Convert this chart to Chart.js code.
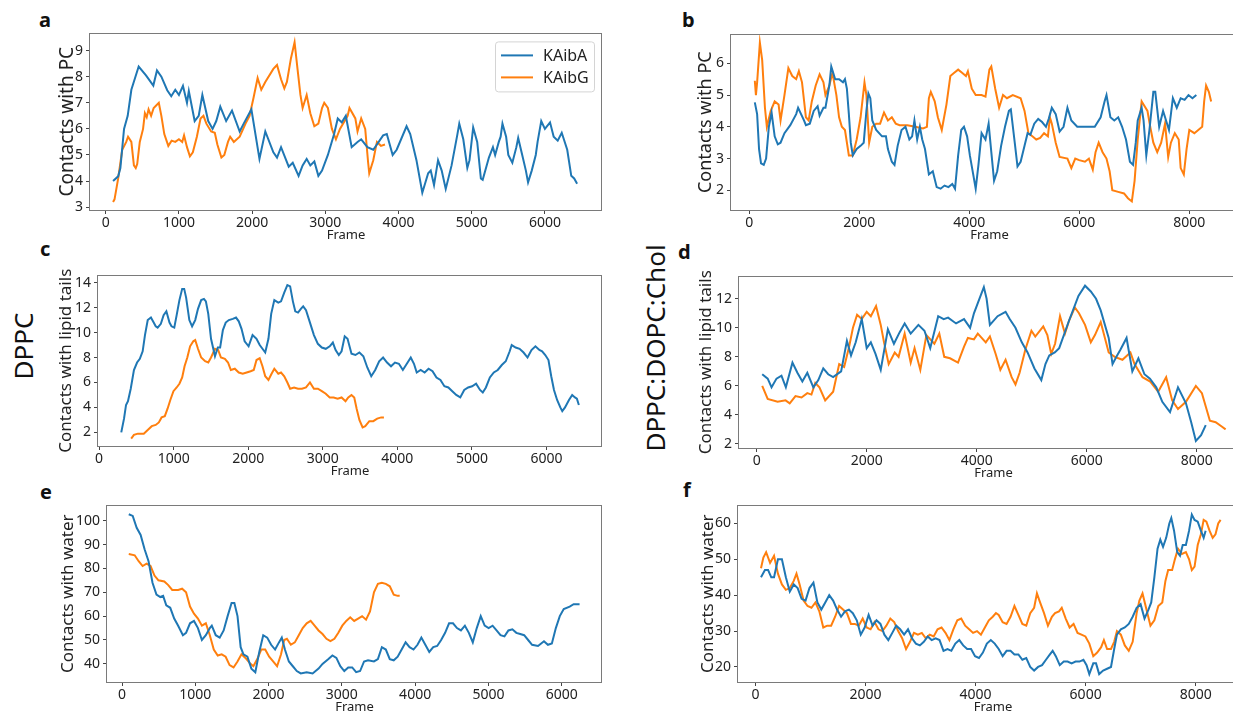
<!DOCTYPE html>
<html>
<head>
<meta charset="utf-8">
<script src="https://cdn.jsdelivr.net/npm/chart.js@4.4.0/dist/chart.umd.min.js"></script>
<style>
  html, body { margin: 0; padding: 0; background: #fff; }
  #figure { position: relative; width: 1233px; height: 712px; overflow: hidden; font-family: "Noto Sans", sans-serif; color: #111; }
  #figure canvas { position: absolute; }
  .letter { position: absolute; font-weight: bold; font-size: 20px; line-height: 20px; }
  .side-label { position: absolute; font-size: 26px; line-height: 26px; white-space: nowrap; transform: translate(-50%, -50%) rotate(-90deg); }
</style>
</head>
<body>
<div id="figure">
  <div class="letter" style="left:39px; top:10px;">a</div>
  <div class="letter" style="left:682px; top:10px;">b</div>
  <div class="letter" style="left:40px; top:239px;">c</div>
  <div class="letter" style="left:678px; top:242px;">d</div>
  <div class="letter" style="left:40px; top:482px;">e</div>
  <div class="letter" style="left:683px; top:480px;">f</div>
  <div class="side-label" style="left:23px; top:346px;">DPPC</div>
  <div class="side-label" style="left:655px; top:348px;">DPPC:DOPC:Chol</div>
</div>
<script>
// series names and colours
const seriesNames = ["KAibA", "KAibG"];
const seriesColors = ["#1f77b4", "#ff7f0e"];

// tick labels
const xTicksShort = [0, 1000, 2000, 3000, 4000, 5000, 6000];
const xTicksLong = [0, 2000, 4000, 6000, 8000];
const yTicksA = [3, 4, 5, 6, 7, 8, 9];
const yTicksB = [2, 3, 4, 5, 6];
const yTicksC = [2, 4, 6, 8, 10, 12, 14];
const yTicksD = [2, 4, 6, 8, 10, 12];
const yTicksE = [40, 50, 60, 70, 80, 90, 100];
const yTicksF = [20, 30, 40, 50, 60];

// --- a: contacts with PC, DPPC ---
const aFramesA = [100,170,200,250,300,350,450,550,650,700,760,840,895,950,1000,1055,1110,1135,1215,1270,1320,1400,1460,1510,1565,1645,1725,1830,1885,1990,2100,2180,2290,2340,2395,2500,2555,2635,2690,2745,2795,2850,2905,2955,3035,3120,3170,3225,3280,3360,3440,3490,3575,3655,3790,3840,3920,3975,4110,4160,4245,4325,4405,4440,4485,4540,4590,4645,4725,4805,4830,4885,4940,4970,5020,5075,5125,5150,5235,5290,5320,5370,5395,5420,5470,5500,5555,5610,5635,5690,5740,5770,5820,5875,5900,5950,6000,6070,6120,6175,6230,6305,6360,6400,6440];
const aKAibA = [4.0,4.18,4.5,6.0,6.5,7.5,8.39,8.05,7.66,8.24,8.0,7.48,7.25,7.5,7.3,7.65,7.0,7.45,6.3,6.5,7.3,6.3,6.0,6.3,6.85,6.3,6.7,5.9,6.2,6.75,4.85,5.9,5.1,4.9,5.3,4.55,4.7,4.2,4.6,4.85,4.6,4.75,4.2,4.4,5.0,5.8,6.4,6.25,6.5,5.3,5.5,5.6,5.3,5.2,5.75,5.8,5.0,5.2,6.1,5.8,4.8,3.55,4.3,4.4,3.85,4.8,4.4,3.7,4.6,5.8,6.2,5.6,4.5,4.8,6.05,5.5,4.1,4.05,4.9,5.3,5.0,5.5,5.7,6.2,5.7,5.0,4.7,5.3,5.65,5.0,4.4,3.95,4.4,5.0,5.5,6.3,6.0,6.25,5.7,5.55,5.85,5.2,4.2,4.1,3.9];
const aFramesG = [100,120,170,225,280,305,350,385,410,430,465,510,535,560,585,620,655,725,760,800,855,900,950,1000,1045,1070,1110,1150,1190,1245,1295,1335,1375,1440,1490,1525,1580,1620,1670,1700,1750,1830,1910,1965,2020,2075,2125,2180,2290,2340,2395,2440,2475,2530,2580,2620,2660,2690,2745,2795,2850,2905,2955,2985,3035,3090,3145,3200,3305,3330,3410,3440,3490,3545,3585,3600,3655,3705,3760,3815];
const aKAibG = [3.2,3.3,4.1,5.2,5.5,5.7,5.5,4.6,4.5,4.65,5.5,6.0,6.6,6.45,6.75,6.5,6.8,7.0,6.5,5.8,5.35,5.55,5.5,5.6,5.5,5.75,5.3,4.95,5.1,5.7,6.4,6.5,6.2,5.9,5.85,5.4,4.9,5.0,5.5,5.7,5.5,5.7,6.2,6.5,7.2,7.95,7.5,7.8,8.3,8.45,7.9,7.55,7.8,8.7,9.32,8.3,7.3,6.8,7.3,6.6,6.1,6.2,6.8,7.0,6.8,6.0,5.6,6.0,6.5,6.8,6.4,5.9,6.4,6.0,4.7,4.3,4.8,5.5,5.35,5.4];

// --- b: contacts with PC, DPPC:DOPC:Chol ---
const bFramesA = [100,142,177,213,263,305,355,405,461,518,568,639,745,852,887,994,1029,1100,1171,1242,1278,1348,1384,1455,1490,1561,1632,1703,1739,1774,1810,1845,1881,1952,2023,2080,2129,2165,2200,2236,2307,2413,2484,2520,2591,2640,2697,2768,2839,2910,2960,3002,3052,3101,3144,3194,3265,3336,3407,3478,3549,3620,3691,3740,3797,3853,3903,3960,4010,4081,4116,4166,4223,4294,4351,4400,4450,4507,4578,4649,4720,4755,4826,4876,4933,5004,5060,5110,5181,5252,5323,5394,5444,5500,5571,5642,5713,5784,5855,5962,6139,6281,6388,6459,6494,6565,6636,6707,6778,6849,6920,6977,7026,7062,7133,7168,7218,7275,7346,7381,7452,7523,7559,7630,7701,7772,7843,7915,7985,8057,8128];
const bKAibA = [4.77,4.4,3.3,2.85,2.8,3.0,4.0,4.45,3.7,3.45,3.5,3.8,4.05,4.4,4.6,4.2,4.05,4.1,4.5,4.65,4.35,4.6,4.6,5.3,5.9,5.5,5.5,5.4,5.5,5.2,4.4,3.5,3.1,3.3,3.4,3.5,4.5,5.05,4.9,4.2,3.9,3.7,3.7,3.3,2.9,2.8,3.4,3.9,4.0,3.6,3.7,4.2,3.6,4.0,3.6,3.3,2.5,2.6,2.1,2.05,2.15,2.1,2.2,2.05,3.1,3.9,4.0,3.7,3.1,2.4,2.05,2.8,3.8,3.6,4.1,3.2,2.3,2.6,3.4,4.0,4.5,4.55,3.5,2.75,2.9,3.4,3.8,3.75,4.1,4.25,4.15,4.0,4.25,4.6,4.4,3.85,4.0,4.6,4.2,4.0,4.0,4.0,4.3,4.8,5.0,4.3,4.2,4.3,4.0,3.6,2.9,2.8,3.5,4.2,4.6,4.2,3.1,3.9,5.1,5.1,4.0,4.5,4.3,3.9,4.9,4.6,4.9,4.85,5.0,4.9,5.0];
const bFramesG = [100,120,142,192,234,284,319,390,461,532,568,639,710,781,852,901,958,1029,1079,1136,1207,1278,1348,1384,1455,1512,1583,1632,1682,1739,1810,1881,1952,2023,2094,2129,2179,2236,2307,2378,2449,2520,2591,2662,2733,2874,3016,3158,3229,3265,3300,3371,3428,3499,3584,3655,3726,3797,3868,3939,3974,4045,4116,4223,4294,4365,4400,4471,4542,4613,4684,4791,4933,5004,5075,5146,5217,5288,5359,5429,5465,5500,5571,5642,5784,5855,5926,5997,6103,6174,6245,6295,6352,6423,6494,6551,6600,6707,6813,6884,6955,7005,7062,7133,7168,7239,7289,7346,7417,7488,7559,7616,7665,7736,7807,7843,7900,7950,8000,8092,8163,8234,8270,8305,8355,8397];
const bKAibG = [5.45,5.0,5.4,6.65,6.1,4.6,4.0,4.5,4.8,4.7,4.2,5.0,5.85,5.6,5.5,5.75,5.4,4.3,4.2,4.8,5.3,5.65,5.4,5.0,5.3,5.7,5.0,4.3,4.0,3.9,3.1,3.1,3.6,4.3,5.4,5.0,3.5,4.0,4.1,4.1,4.45,4.2,4.3,4.1,4.05,4.05,4.0,3.95,4.0,4.9,5.1,4.8,4.3,3.9,4.7,5.6,5.7,5.8,5.7,5.6,5.75,5.2,5.0,5.0,4.95,5.8,5.9,5.2,4.6,5.0,4.9,5.0,4.9,4.5,3.8,3.7,3.6,3.65,3.8,3.7,4.3,4.1,3.5,3.05,3.0,2.7,3.0,2.95,2.9,3.0,2.65,3.2,3.5,3.2,3.0,2.6,2.0,1.95,1.9,1.75,1.65,2.3,3.6,4.8,4.7,4.5,4.0,3.5,3.2,3.5,4.1,3.05,3.5,3.8,3.6,2.7,2.5,3.3,3.9,3.8,3.9,4.0,4.8,5.3,5.1,4.8];

// --- c: contacts with lipid tails, DPPC ---
const cFramesA = [297,334,361,387,424,467,509,546,584,615,652,695,732,759,785,828,865,902,944,971,1008,1040,1077,1114,1141,1167,1210,1247,1289,1326,1369,1406,1432,1464,1501,1554,1592,1623,1660,1698,1740,1793,1836,1873,1910,1952,2005,2058,2111,2154,2191,2228,2271,2308,2350,2403,2440,2483,2525,2562,2599,2631,2668,2706,2737,2775,2828,2881,2934,2987,3040,3093,3135,3172,3215,3252,3294,3332,3385,3438,3491,3544,3597,3650,3703,3756,3809,3862,3915,3968,4021,4074,4127,4180,4223,4260,4313,4366,4419,4472,4525,4578,4631,4684,4737,4790,4844,4897,4950,5003,5056,5109,5146,5188,5241,5294,5347,5401,5454,5507,5534,5587,5640,5693,5746,5799,5852,5905,5942,5984,6027,6064,6101,6143,6186,6212,6249,6302,6345,6382,6408,6435];
const cKAibA = [2.0,3.1,4.2,4.5,5.5,7.0,7.6,7.9,8.5,9.8,11.0,11.2,10.8,10.5,10.4,10.7,11.4,11.7,10.8,10.5,10.4,11.4,12.6,13.5,13.5,12.8,11.0,10.5,11.0,11.9,12.6,12.7,12.5,11.5,9.5,8.1,8.8,8.8,10.2,10.8,11.0,11.1,11.2,10.9,10.3,9.3,8.9,9.8,9.5,9.0,8.7,8.4,9.5,11.5,12.6,12.4,12.5,13.2,13.8,13.7,12.5,11.7,11.6,11.9,12.1,11.8,10.8,9.8,9.1,8.8,8.7,8.9,9.2,8.6,8.2,8.5,9.7,9.5,8.3,8.2,8.4,8.1,7.2,6.5,7.0,7.7,8.0,7.6,7.3,7.6,7.5,7.0,7.5,8.0,7.5,6.8,7.0,6.8,7.1,6.9,6.4,6.2,5.7,5.6,5.3,5.0,4.8,5.4,5.6,5.7,5.9,5.4,5.2,5.6,6.4,6.8,7.0,7.4,7.7,8.5,9.0,8.8,8.7,8.4,8.0,8.6,8.9,8.6,8.5,8.2,7.8,6.5,5.4,4.6,4.0,3.7,4.0,4.6,5.0,4.8,4.7,4.2];
const cFramesG = [430,467,520,599,652,706,759,801,838,881,918,955,997,1040,1077,1114,1146,1183,1220,1263,1289,1326,1369,1422,1464,1501,1554,1597,1634,1687,1729,1767,1820,1873,1926,1979,2032,2074,2111,2154,2191,2228,2271,2313,2350,2403,2440,2483,2525,2562,2615,2668,2721,2775,2828,2881,2934,2987,3040,3093,3146,3199,3252,3305,3342,3385,3422,3454,3491,3534,3570,3624,3677,3730,3783,3820];
const cKAibG = [1.5,1.8,1.9,1.9,2.2,2.5,2.6,2.8,3.2,3.3,3.9,4.6,5.3,5.6,5.9,6.4,7.3,8.0,8.9,9.3,9.4,8.7,8.0,7.7,7.6,8.0,8.7,8.6,8.0,7.9,7.6,7.0,7.1,6.8,6.7,6.8,6.9,7.0,7.8,7.95,7.3,6.5,6.2,6.7,7.1,6.7,6.8,6.5,6.0,5.5,5.6,5.5,5.5,5.6,6.0,5.5,5.5,5.3,5.1,4.8,4.8,4.7,4.8,4.5,4.8,5.0,4.8,3.9,3.0,2.4,2.5,2.9,2.9,3.1,3.2,3.2];

// --- d: contacts with lipid tails, DPPC:DOPC:Chol ---
const dFramesA = [100,200,270,360,450,530,650,740,830,920,1030,1120,1210,1300,1390,1535,1640,1715,1800,1910,2000,2075,2160,2255,2385,2495,2600,2690,2800,2940,3050,3155,3300,3400,3480,3625,3770,3880,3950,4020,4130,4180,4240,4380,4525,4600,4705,4820,4925,5050,5175,5250,5320,5420,5500,5680,5850,5970,6075,6170,6255,6400,6470,6540,6615,6725,6830,6940,7050,7150,7265,7375,7515,7660,7805,7900,7985,8080,8165];
const dKAibA = [6.8,6.5,5.9,6.5,6.7,5.9,7.6,6.9,6.3,6.9,5.9,6.4,7.2,6.8,6.6,7.0,9.1,8.1,9.0,10.6,8.6,9.0,8.2,7.1,9.9,8.9,9.7,10.3,9.6,10.2,9.8,8.6,10.8,10.6,10.7,10.3,10.6,10.0,11.0,11.7,12.8,12.0,10.2,10.8,11.1,10.6,10.0,9.0,8.3,7.2,6.4,7.5,8.1,8.3,8.6,10.5,12.2,12.9,12.5,12.0,11.2,9.3,7.5,8.0,8.5,9.3,7.0,7.9,6.8,6.5,5.9,4.9,4.2,5.9,4.8,3.5,2.2,2.6,3.3];
const dFramesG = [100,200,380,525,600,705,815,920,995,1065,1140,1245,1390,1500,1590,1680,1750,1825,1910,2000,2075,2170,2255,2315,2400,2510,2580,2690,2800,2870,2975,3085,3230,3320,3410,3515,3660,3770,3840,3950,4020,4165,4240,4345,4430,4525,4635,4705,4780,4885,4995,5065,5210,5285,5355,5425,5515,5605,5680,5785,5860,5970,6075,6150,6255,6400,6510,6650,6795,6870,7015,7155,7300,7445,7555,7660,7805,7985,8095,8240,8345,8455,8526];
const dKAibG = [6.0,5.1,4.9,5.0,4.8,5.3,5.2,5.5,5.4,6.2,5.9,5.0,5.6,7.5,7.3,8.7,10.0,10.9,10.6,11.1,10.8,11.5,10.2,9.0,7.5,8.3,8.0,9.6,7.6,8.6,7.1,9.5,8.9,9.6,8.0,7.9,7.6,8.7,9.3,9.2,9.6,9.0,9.4,8.2,7.1,7.8,6.6,6.1,6.9,8.5,9.8,9.4,10.1,9.5,8.2,8.9,10.8,9.6,10.5,11.4,11.0,10.2,9.0,9.5,10.4,8.3,8.0,7.8,8.3,7.5,6.6,6.3,5.6,6.6,5.0,4.4,4.9,6.0,5.5,3.6,3.5,3.2,3.0];

// --- e: contacts with water, DPPC ---
const eFramesA = [92,146,200,254,308,362,416,470,523,561,604,658,712,766,831,874,928,982,1036,1090,1144,1198,1225,1279,1333,1387,1441,1495,1533,1576,1619,1657,1711,1765,1819,1873,1927,1981,2035,2089,2142,2180,2223,2277,2331,2385,2439,2520,2601,2682,2736,2817,2871,2925,2979,3033,3087,3141,3195,3249,3303,3357,3438,3492,3546,3600,3654,3708,3762,3816,3870,3924,3978,4032,4085,4139,4193,4247,4301,4355,4409,4463,4517,4571,4625,4679,4733,4787,4841,4895,4949,5003,5057,5111,5165,5219,5273,5327,5381,5434,5488,5542,5596,5677,5758,5812,5866,5920,5974,6028,6109,6163,6244];
const eKAibA = [102.7,102,97,94,88,83,74,69,68,68.5,64.5,63.5,59,56,52,53,57,58,55,50,52,55,56,52,51,54,60,65.5,65.5,60,47,44,43,38,36.5,45,52,51,48,46,49,51,46,41,39,37,36,36.5,36,38,40,42,43.5,42.5,39,37,38.5,38.5,36.5,37,41,41.5,41,42,47,46,42,41.5,43,46,49,47,46,48,51,48,45,47,47.5,50,53,57,57,55,54,56,53,49,55,60,56,55,56,54,52,51.5,54,54.5,53,52.5,52,50,48,47.5,49.5,48,48.5,55,60,63,64,65,65];
const eFramesG = [92,173,227,281,335,389,443,497,577,631,685,766,820,874,928,982,1036,1090,1144,1198,1252,1306,1360,1414,1468,1522,1576,1630,1684,1738,1792,1846,1900,1954,2008,2062,2116,2170,2213,2250,2304,2358,2412,2466,2520,2574,2628,2682,2736,2790,2844,2898,2952,3006,3060,3114,3168,3222,3276,3330,3384,3438,3492,3546,3600,3654,3708,3762,3789];
const eKAibG = [86,85.5,83,81,82,81,77,75,74.5,73,71,71,71.5,70,64,61,59,56,57,52,46,43.5,44,43,39.5,38.5,41,44,42.5,40.5,39,42,46,46,43,41,39,44,50,50.5,48,49,52,55,57,58,56,54,52.5,50.5,49.5,50.5,53,56,58,59.5,58,59,60,58.5,62,70,73.5,74,73.5,72.5,69,68.5,68.5];

// --- f: contacts with water, DPPC:DOPC:Chol ---
const fFramesA = [100,172,229,287,337,408,480,552,623,695,766,838,910,981,1053,1125,1196,1268,1340,1411,1483,1555,1626,1698,1769,1841,1913,1984,2056,2128,2199,2271,2342,2414,2486,2557,2629,2701,2772,2844,2915,2987,3059,3130,3202,3274,3345,3417,3489,3560,3632,3704,3775,3847,3918,3990,4062,4133,4205,4277,4348,4420,4492,4563,4635,4706,4778,4850,4921,4993,5064,5136,5208,5279,5351,5401,5458,5530,5602,5673,5745,5817,5888,5960,6017,6067,6139,6189,6246,6318,6390,6461,6519,6569,6640,6712,6784,6855,6927,6999,7070,7142,7192,7249,7307,7357,7407,7464,7521,7557,7607,7665,7715,7765,7822,7880,7930,7980,8037,8095,8145,8181];
const fKAibA = [45,47,47,45,45,50,50,45,41,43,42,39,38.5,42,43.5,38,36,38,40,38.5,36,34,35.5,36,35,33,29,31,34.5,31.5,33,32,29,27.5,29.5,31.5,30.5,29,30.5,28,26.5,26,27,28.5,27.5,28,27.5,24.5,25,24.5,26.5,27.5,26,25,25,23,22.5,24,26.5,27.5,26.5,25,23,24.5,24.5,23.5,23.5,22,22.5,20,19,20,20.5,22,23.5,24.5,23,20.5,21.5,21.5,21,21.5,21.5,22,20.5,18,21,21,18,19,19.5,20,25,29,30.5,31,32,34,36.5,37.5,33.5,36,38,45,53,55.5,53.5,56,60,61.5,58,52,51,54,54,58,62.5,61,60.5,58,56,58];
const fFramesG = [100,143,193,265,337,408,480,552,623,695,745,802,874,946,1017,1089,1160,1232,1304,1375,1447,1519,1590,1662,1734,1805,1877,1948,2020,2092,2163,2235,2306,2378,2450,2521,2593,2665,2736,2808,2880,2951,3023,3095,3166,3238,3309,3381,3453,3524,3596,3668,3739,3811,3883,3954,4026,4097,4169,4241,4312,4370,4420,4492,4563,4635,4706,4778,4850,4921,4993,5064,5115,5172,5244,5315,5387,5444,5516,5566,5638,5709,5781,5853,5924,5996,6067,6139,6210,6282,6332,6390,6461,6519,6569,6640,6712,6784,6855,6927,6977,7034,7106,7178,7249,7321,7393,7450,7500,7572,7622,7679,7751,7822,7880,7930,7980,8037,8095,8145,8195,8252,8309,8360,8410,8453];
const fKAibG = [47.5,50.5,52,49,51,46,43,41.5,42,44,46,43,38.5,37,36.5,38,35.5,31,31.5,31.5,34,37,36,35,32,32,31.5,33.5,31,30.5,32.5,30.5,30,31.5,33.5,32.5,30,28,25,27,29.5,29,29.5,28,29,28.5,30.5,31,29.5,27.5,30.5,33,33.5,31.5,30.5,29.5,30,29,31,33,34,35,34.5,32.5,32,34,37,34.5,32,31.5,35,36.5,40.5,38,35,31.5,34,35,35.5,36.5,33.5,31,32,29.5,29,28.5,26.5,23,24,25.5,27.5,25,25,27,30,29,26,24.5,27,35,38.5,40.5,36,31.5,33,37,38,44,47,47,50,53,51.5,52,50,47,48,54,57,61,60.5,58,56,57,60,61];

Chart.defaults.font.family = '"Noto Sans", sans-serif';
Chart.defaults.color = "#222";

const TEXT = "#222";
const X_AXIS_H = 32;
const PAD = 3;

// draws the four spines like matplotlib
const framePlugin = {
  id: "frame",
  afterDraw(chart) {
    const { ctx, chartArea: a } = chart;
    ctx.save();
    ctx.strokeStyle = "#7a7a7a";
    ctx.lineWidth = 1;
    ctx.strokeRect(Math.round(a.left) - 0.5, Math.round(a.top) + 0.5,
      Math.round(a.right - a.left), Math.round(a.bottom - a.top));
    ctx.restore();
  },
};

// legend box in the upper right of panel a
const legendPlugin = {
  id: "boxLegend",
  afterDraw(chart) {
    const { ctx, chartArea: a } = chart;
    const w = 99, h = 50;
    const left = a.right - 8 - w, top = a.top + 8;
    ctx.save();
    ctx.fillStyle = "rgba(255,255,255,0.85)";
    ctx.strokeStyle = "#d4d4d4";
    ctx.lineWidth = 1;
    ctx.beginPath();
    ctx.roundRect(left + 0.5, top + 0.5, w, h, 3);
    ctx.fill();
    ctx.stroke();
    ctx.font = '16px "Noto Sans", sans-serif';
    ctx.textBaseline = "middle";
    seriesNames.forEach((name, i) => {
      const y = top + 14 + i * 22;
      ctx.strokeStyle = seriesColors[i];
      ctx.lineWidth = 2;
      ctx.beginPath();
      ctx.moveTo(left + 6, y);
      ctx.lineTo(left + 38, y);
      ctx.stroke();
      ctx.fillStyle = TEXT;
      ctx.fillText(name, left + 48, y + 1);
    });
    ctx.restore();
  },
};

function toPoints(frames, values) {
  return frames.map((f, i) => ({ x: f, y: values[i] }));
}

function makePanel(p) {
  const fig = document.getElementById("figure");
  const canvas = document.createElement("canvas");
  const w = p.box.r - p.left + PAD;
  const h = p.box.b - p.box.t + PAD + X_AXIS_H;
  canvas.width = w;
  canvas.height = h;
  canvas.style.left = p.left + "px";
  canvas.style.top = p.box.t - PAD + "px";
  canvas.style.width = w + "px";
  canvas.style.height = h + "px";
  fig.appendChild(canvas);

  const yAxisW = p.box.l - p.left;
  const tickStyle = {
    font: { size: 14 },
    color: TEXT,
    padding: 1,
    autoSkip: false,
    maxRotation: 0,
    callback: (v) => String(v),
  };
  const gridStyle = {
    display: true,
    drawOnChartArea: false,
    drawTicks: true,
    tickLength: 4,
    color: "#444",
    lineWidth: 1,
  };

  new Chart(canvas, {
    type: "line",
    data: {
      datasets: [
        { label: seriesNames[0], data: toPoints(p.framesA, p.valuesA), borderColor: seriesColors[0] },
        { label: seriesNames[1], data: toPoints(p.framesG, p.valuesG), borderColor: seriesColors[1] },
      ].map((d) => ({ ...d, borderWidth: 2, pointRadius: 0, fill: false, tension: 0 })),
    },
    options: {
      responsive: false,
      animation: false,
      devicePixelRatio: 1,
      layout: { padding: { top: PAD, right: PAD, left: 0, bottom: 0 } },
      plugins: { legend: { display: false }, tooltip: { enabled: false } },
      scales: {
        x: {
          type: "linear",
          min: p.xRange[0],
          max: p.xRange[1],
          afterBuildTicks: (s) => { s.ticks = p.xTicks.map((v) => ({ value: v })); },
          afterFit: (s) => { s.height = X_AXIS_H; },
          ticks: { ...tickStyle, padding: 1 },
          grid: gridStyle,
          border: { display: false },
          title: {
            display: true,
            text: "Frame",
            font: { size: 13, lineHeight: 1 },
            color: TEXT,
            padding: { top: 0, bottom: 0.5 },
          },
        },
        y: {
          type: "linear",
          min: p.yRange[0],
          max: p.yRange[1],
          afterBuildTicks: (s) => { s.ticks = p.yTicks.map((v) => ({ value: v })); },
          afterFit: (s) => { s.width = yAxisW; },
          ticks: { ...tickStyle, padding: 3 },
          grid: gridStyle,
          border: { display: false },
          title: {
            display: true,
            text: p.yTitle,
            font: { size: p.yTitleSize, lineHeight: 1 },
            color: TEXT,
            padding: { top: p.yTitleX - p.left - p.yTitleSize / 2, bottom: 0 },
          },
        },
      },
    },
    plugins: p.legend ? [framePlugin, legendPlugin] : [framePlugin],
  });
}

const panels = [
  { left: 0, box: { l: 90, t: 25, r: 602, b: 210 }, xRange: [-215, 6780], yRange: [2.89, 9.66],
    xTicks: xTicksShort, yTicks: yTicksA, yTitle: "Contacts with PC", yTitleSize: 19, yTitleX: 68,
    framesA: aFramesA, valuesA: aKAibA, framesG: aFramesG, valuesG: aKAibG, legend: true },
  { left: 620, box: { l: 731, t: 26, r: 1248, b: 210 }, xRange: [-333, 9067], yRange: [1.38, 6.91],
    xTicks: xTicksLong, yTicks: yTicksB, yTitle: "Contacts with PC", yTitleSize: 18, yTitleX: 706,
    framesA: bFramesA, valuesA: bKAibA, framesG: bFramesG, valuesG: bKAibG },
  { left: 0, box: { l: 98, t: 267, r: 602, b: 446 }, xRange: [-15, 6745], yRange: [0.91, 14.58],
    xTicks: xTicksShort, yTicks: yTicksC, yTitle: "Contacts with lipid tails", yTitleSize: 17, yTitleX: 66,
    framesA: cFramesA, valuesA: cKAibA, framesG: cFramesG, valuesG: cKAibG },
  { left: 620, box: { l: 739, t: 268, r: 1248, b: 448 }, xRange: [-322, 8933], yRange: [1.72, 13.54],
    xTicks: xTicksLong, yTicks: yTicksD, yTitle: "Contacts with lipid tails", yTitleSize: 17, yTitleX: 706,
    framesA: dFramesA, valuesA: dKAibA, framesG: dFramesG, valuesG: dKAibG },
  { left: 0, box: { l: 107, t: 497, r: 602, b: 682 }, xRange: [-205, 6550], yRange: [32.4, 106.4],
    xTicks: xTicksShort, yTicks: yTicksE, yTitle: "Contacts with water", yTitleSize: 17, yTitleX: 68,
    framesA: eFramesA, valuesA: eKAibA, framesG: eFramesG, valuesG: eKAibG },
  { left: 620, box: { l: 738, t: 497, r: 1248, b: 682 }, xRange: [-318, 8951], yRange: [15.8, 65.05],
    xTicks: xTicksLong, yTicks: yTicksF, yTitle: "Contacts with water", yTitleSize: 17, yTitleX: 708,
    framesA: fFramesA, valuesA: fKAibA, framesG: fFramesG, valuesG: fKAibG },
];

panels.forEach(makePanel);
</script>
</body>
</html>
